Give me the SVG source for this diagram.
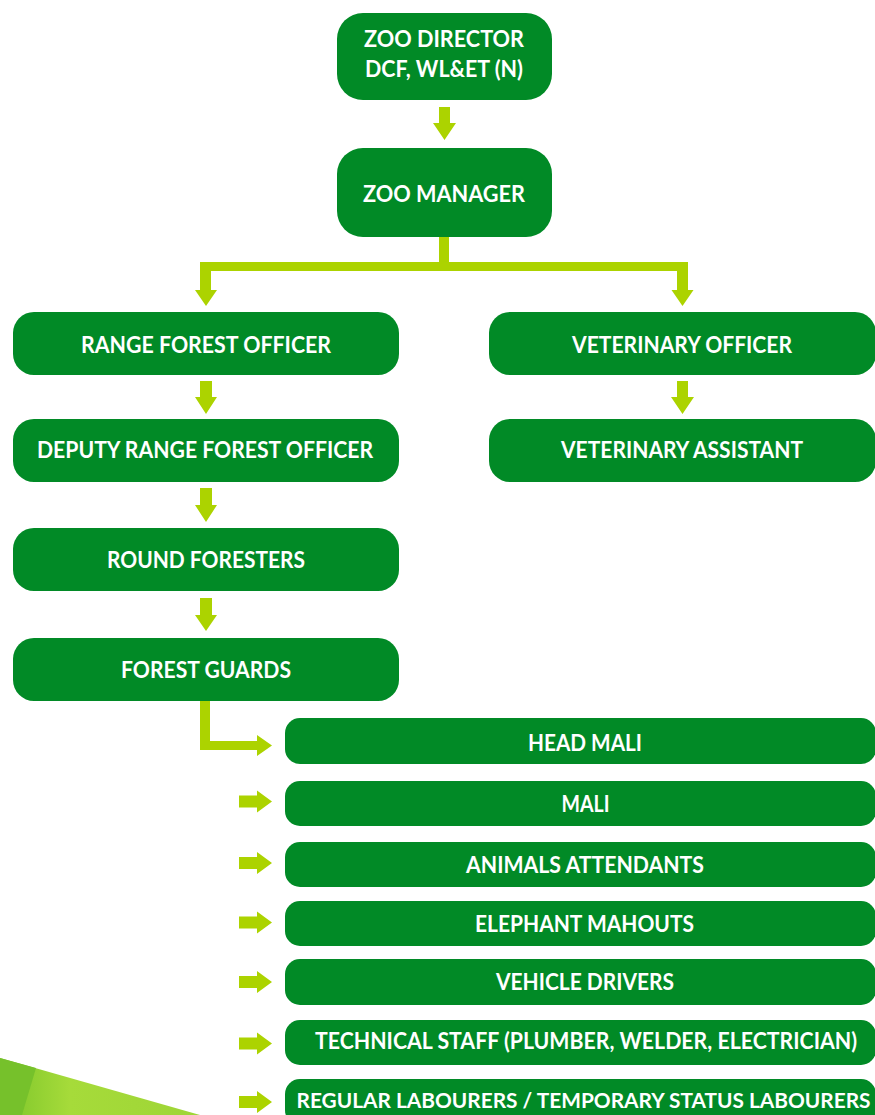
<svg xmlns="http://www.w3.org/2000/svg" width="875" height="1115" viewBox="0 0 875 1115">
<defs>
<style>
.box{fill:#018a26}
.arr{fill:#acd300}
.t{font-family:Lato,"Open Sans","Liberation Sans",sans-serif;font-weight:bold;fill:#ffffff;text-anchor:middle}
.big{font-size:23px}
.sm{font-size:22px}
</style>
<linearGradient id="deco" x1="0" y1="0" x2="1" y2="0">
<stop offset="0" stop-color="#7cc52a"/>
<stop offset="0.35" stop-color="#a6db3a"/>
<stop offset="1" stop-color="#9ed536"/>
</linearGradient>
<path id="sa" d="M0,-6 H18 V-11 L33,0 L18,11 V6 H0 Z"/>
</defs>
<rect width="875" height="1115" fill="#ffffff"/>
<g id="decoration">
<polygon points="0,1058 200,1115 0,1115" fill="url(#deco)"/>
<polygon points="0,1058 36,1068 22,1115 0,1115" fill="#76c12b"/>
</g>
<g id="connectors">
<path class="arr" d="M439,107 H450 V123 H456 L444.5,140 L433,123 H439 Z"/>
<path class="arr" d="M439,237 H449 V262 H688 V290 H693.5 L682.5,306 L671.5,290 H677 V271 H211 V290 H217 L206,306 L195,290 H200 V262 H439 Z"/>
<path class="arr" d="M200,381 H212 V397 H217 L206,414 L195,397 H200 Z"/>
<path class="arr" d="M677,381 H688 V397 H694 L682.5,414 L671,397 H677 Z"/>
<path class="arr" d="M200,488 H212 V505 H217 L206,522 L195,505 H200 Z"/>
<path class="arr" d="M200,598 H212 V615 H217 L206,631 L195,615 H200 Z"/>
<path class="arr" d="M200,701 H210 V741 H257 V735 L272,745.5 L257,756 V750 H200 Z"/>
<use href="#sa" class="arr" x="239" y="801.5"/>
<use href="#sa" class="arr" x="239" y="863"/>
<use href="#sa" class="arr" x="239" y="922.5"/>
<use href="#sa" class="arr" x="239" y="982"/>
<use href="#sa" class="arr" x="239" y="1043.5"/>
<use href="#sa" class="arr" x="239" y="1102"/>
</g>
<g id="zoo-director">
<rect class="box" x="337" y="13" width="215" height="87" rx="26"/>
<text class="t big" x="444" y="47" textLength="160" lengthAdjust="spacingAndGlyphs">ZOO DIRECTOR</text>
<text class="t big" x="444" y="77" textLength="158" lengthAdjust="spacingAndGlyphs">DCF, WL&amp;ET (N)</text>
</g>
<g id="zoo-manager">
<rect class="box" x="337" y="148" width="215" height="89" rx="26"/>
<text class="t big" x="444" y="202" textLength="162" lengthAdjust="spacingAndGlyphs">ZOO MANAGER</text>
</g>
<g id="range-forest-officer">
<rect class="box" x="13" y="312" width="386" height="63" rx="21"/>
<text class="t big" x="206" y="353" textLength="250" lengthAdjust="spacingAndGlyphs">RANGE FOREST OFFICER</text>
</g>
<g id="deputy-range-forest-officer">
<rect class="box" x="13" y="419" width="386" height="63" rx="21"/>
<text class="t big" x="205" y="458" textLength="336" lengthAdjust="spacingAndGlyphs">DEPUTY RANGE FOREST OFFICER</text>
</g>
<g id="round-foresters">
<rect class="box" x="13" y="528" width="386" height="63" rx="21"/>
<text class="t big" x="206" y="568" textLength="198" lengthAdjust="spacingAndGlyphs">ROUND FORESTERS</text>
</g>
<g id="forest-guards">
<rect class="box" x="13" y="638" width="386" height="63" rx="21"/>
<text class="t big" x="206" y="678" textLength="170" lengthAdjust="spacingAndGlyphs">FOREST GUARDS</text>
</g>
<g id="veterinary-officer">
<rect class="box" x="489" y="312" width="387" height="63" rx="21"/>
<text class="t big" x="682" y="353" textLength="220" lengthAdjust="spacingAndGlyphs">VETERINARY OFFICER</text>
</g>
<g id="veterinary-assistant">
<rect class="box" x="489" y="419" width="387" height="63" rx="21"/>
<text class="t big" x="682" y="458" textLength="242" lengthAdjust="spacingAndGlyphs">VETERINARY ASSISTANT</text>
</g>
<g id="head-mali">
<rect class="box" x="285" y="718" width="591" height="46" rx="15"/>
<text class="t sm" x="585" y="751" textLength="114" lengthAdjust="spacingAndGlyphs">HEAD MALI</text>
</g>
<g id="mali">
<rect class="box" x="285" y="781" width="591" height="45" rx="15"/>
<text class="t sm" x="585.5" y="812" textLength="48" lengthAdjust="spacingAndGlyphs">MALI</text>
</g>
<g id="animals-attendants">
<rect class="box" x="285" y="842" width="591" height="45" rx="15"/>
<text class="t sm" x="585" y="873" textLength="238" lengthAdjust="spacingAndGlyphs">ANIMALS ATTENDANTS</text>
</g>
<g id="elephant-mahouts">
<rect class="box" x="285" y="901" width="591" height="45" rx="15"/>
<text class="t sm" x="584.5" y="932" textLength="219" lengthAdjust="spacingAndGlyphs">ELEPHANT MAHOUTS</text>
</g>
<g id="vehicle-drivers">
<rect class="box" x="285" y="959" width="591" height="46" rx="15"/>
<text class="t sm" x="585" y="990" textLength="178" lengthAdjust="spacingAndGlyphs">VEHICLE DRIVERS</text>
</g>
<g id="technical-staff">
<rect class="box" x="285" y="1020" width="591" height="45" rx="15"/>
<text class="t sm" x="586" y="1049" textLength="542" lengthAdjust="spacingAndGlyphs">TECHNICAL STAFF (PLUMBER, WELDER, ELECTRICIAN)</text>
</g>
<g id="regular-labourers">
<rect class="box" x="285" y="1079" width="591" height="46" rx="15"/>
<text class="t" x="583.5" y="1108" font-size="21" textLength="574" lengthAdjust="spacingAndGlyphs">REGULAR LABOURERS / TEMPORARY STATUS LABOURERS</text>
</g>
</svg>
